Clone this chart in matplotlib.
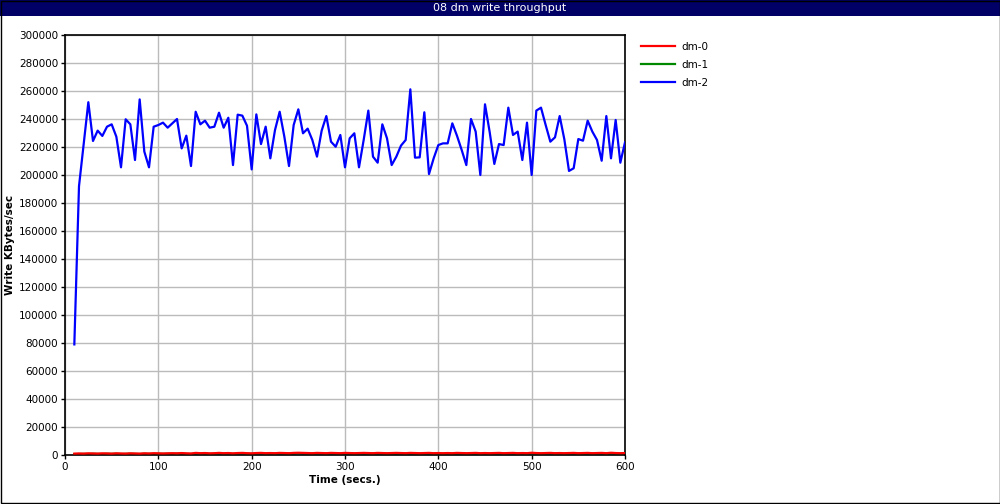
import matplotlib
matplotlib.use("Agg")
import matplotlib.pyplot as plt
from matplotlib.patches import Rectangle

title = "08 dm write throughput"
x_label = "Time (secs.)"
y_label = "Write KBytes/sec"
series_names = ["dm-0", "dm-1", "dm-2"]
series_colors = ["#ff0000", "#008800", "#0000ff"]
series_z = [3, 2, 4]

time_s = list(range(10, 601, 5))

dm2 = [79000, 192000, 222000, 252000, 224300, 231700, 227900, 234500, 236200, 227400,
       205500, 239800, 236200, 210700, 254000, 216700, 205500, 234500, 235700, 237400,
       233800, 236900, 240000, 219000, 228100, 206400, 245200, 236200, 238800, 233800,
       234500, 244500, 233800, 240900, 207100, 243100, 242400, 235200, 204000, 243300,
       222100, 234500, 211900, 232100, 245200, 227400, 206400, 235700, 246900, 229800,
       233100, 225000, 213100, 231700, 242100, 223800, 220200, 228600, 205500, 226200,
       229800, 205500, 225000, 246000, 213100, 208800, 236200, 226200, 207100, 213100,
       221000, 225000, 261200, 212400, 212600, 244800, 200700, 211900, 221400, 222600,
       222600, 236900, 228000, 217900, 207100, 240000, 231000, 200000, 250500, 230700,
       207900, 222100, 221400, 248100, 228600, 231000, 210700, 237400, 200000, 246000,
       248100, 235700, 223800, 226900, 242100, 225500, 202900, 204800, 225700, 224500,
       238800, 231000, 225000, 210200, 242100, 211900, 239300, 208800, 223300]

dm1 = [600, 700, 800, 700, 900, 800, 700, 900, 800, 900,
       700, 800, 900, 800, 700, 900, 800, 700, 900, 800,
       900, 800, 1000, 900, 800, 700, 1100, 900, 1000, 800,
       900, 1100, 900, 1000, 800, 1000, 1100, 900, 800, 1000,
       1100, 900, 1000, 900, 1100, 1000, 900, 1100, 1300, 1100,
       1000, 900, 1200, 1000, 900, 1100, 1000, 900, 1100, 1000,
       900, 1000, 1100, 1000, 900, 1100, 1000, 900, 1000, 1100,
       1000, 900, 1100, 1000, 900, 1000, 1100, 900, 1000, 900,
       1000, 900, 1100, 1000, 900, 1000, 1100, 900, 1000, 900,
       1000, 1100, 900, 1000, 1100, 900, 1000, 900, 1300, 1000,
       900, 1000, 1100, 900, 1000, 900, 1000, 1100, 900, 1000,
       1100, 900, 1000, 1100, 900, 1200, 1000, 900, 1000]

dm0 = [1000, 1100, 1000, 1200, 1100, 1000, 1200, 1100, 1000, 1200,
       1100, 1000, 1200, 1100, 1000, 1200, 1100, 1300, 1200, 1100,
       1200, 1300, 1200, 1400, 1200, 1100, 1500, 1300, 1400, 1200,
       1300, 1500, 1300, 1400, 1200, 1400, 1500, 1300, 1200, 1400,
       1500, 1300, 1400, 1300, 1500, 1400, 1300, 1500, 1600, 1500,
       1400, 1300, 1500, 1400, 1300, 1500, 1400, 1300, 1500, 1400,
       1300, 1400, 1500, 1400, 1300, 1500, 1400, 1300, 1400, 1500,
       1400, 1300, 1500, 1400, 1300, 1400, 1500, 1300, 1400, 1300,
       1400, 1300, 1500, 1400, 1300, 1400, 1500, 1300, 1400, 1300,
       1400, 1500, 1300, 1400, 1500, 1300, 1400, 1300, 1600, 1400,
       1300, 1400, 1500, 1300, 1400, 1300, 1400, 1500, 1300, 1400,
       1500, 1300, 1400, 1500, 1300, 1600, 1400, 1300, 1400]

x_ticks = list(range(0, 601, 100))
y_ticks = list(range(0, 300001, 20000))

plt.rcParams['font.family'] = ['DejaVu Sans']

fig = plt.figure(figsize=(10, 5.04), dpi=100)
# title bar
fig.patches.append(Rectangle((0, 1 - 16 / 504), 1, 16 / 504, transform=fig.transFigure,
                             facecolor="#000066", edgecolor="none", zorder=0))
fig.text(0.5, 1 - 8 / 504, title, color="white", ha="center", va="center", fontsize=8)
# outer border
fig.patches.append(Rectangle((0.0005, 0.001), 0.999, 0.998, transform=fig.transFigure,
                             facecolor="none", edgecolor="black", linewidth=1.0, zorder=5))

ax = fig.add_axes([0.065, (504 - 455) / 504, 0.56, 420 / 504])
for name, color, z, ys in zip(series_names, series_colors, series_z, [dm0, dm1, dm2]):
    ax.plot(time_s, ys, color=color, linewidth=1.6, label=name, zorder=z)

ax.set_xlim(0, 600)
ax.set_ylim(0, 300000)
ax.set_xticks(x_ticks)
ax.set_yticks(y_ticks)
ax.set_xticklabels([str(v) for v in x_ticks])
ax.set_yticklabels([str(v) for v in y_ticks])
ax.tick_params(labelsize=7.5, length=3, width=1, pad=2)
ax.grid(True, color="#bbbbbb", linewidth=1)
ax.set_axisbelow(True)
for s in ax.spines.values():
    s.set_linewidth(1.2)
ax.set_xlabel(x_label, fontsize=7.5, fontweight="bold", labelpad=2)
ax.set_ylabel(y_label, fontsize=7.5, fontweight="bold", labelpad=3)

handles, labels = ax.get_legend_handles_labels()
fig.legend(handles, labels, loc="upper left", bbox_to_anchor=(0.632, 0.935), frameon=False,
           fontsize=7.5, handlelength=3.2, handletextpad=0.6, labelspacing=0.75)

fig.savefig("out.png", dpi=100)
